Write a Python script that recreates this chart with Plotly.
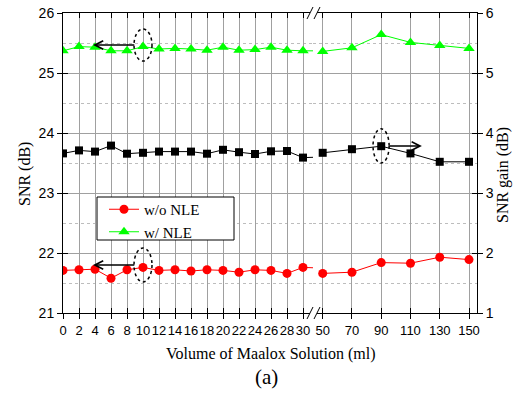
import plotly.graph_objects as go

# ---- data ----
vol_left = [0, 2, 4, 6, 8, 10, 12, 14, 16, 18, 20, 22, 24, 26, 28, 30]
vol_right = [50, 70, 90, 110, 130, 150]

snr_wo_left = [21.71, 21.72, 21.73, 21.58, 21.72, 21.76, 21.71, 21.72, 21.70, 21.72,
               21.71, 21.68, 21.72, 21.71, 21.66, 21.76]
snr_wo_right = [21.66, 21.68, 21.84, 21.83, 21.93, 21.89]

snr_w_left = [25.37, 25.44, 25.43, 25.37, 25.37, 25.44, 25.40, 25.41, 25.40, 25.38,
              25.43, 25.38, 25.39, 25.43, 25.38, 25.37]
snr_w_right = [25.36, 25.42, 25.64, 25.51, 25.46, 25.41]

gain_left = [3.66, 3.71, 3.69, 3.79, 3.655, 3.67, 3.69, 3.69, 3.69, 3.655,
             3.72, 3.68, 3.65, 3.695, 3.70, 3.59]
gain_right = [3.67, 3.73, 3.78, 3.66, 3.52, 3.52]

left_ticks = vol_left
right_ticks = vol_right

# ---- geometry (plot area 63..477 x 13..313 px) ----
W, H = 513, 393
L, R, T, B = 63, 36, 13, 80
PW = W - L - R
PH = H - T - B
brk = (313 - L) / PW

def px(xp):
    return (xp - L) / PW

def py(yp):
    return (T + PH - yp) / PH

RED = "#FF0000"
GREEN = "#00FF00"
GRID = "#A0A0A0"
SANS = "Liberation Sans, Arial, sans-serif"
SERIF = "Liberation Serif, Times New Roman, serif"

fig = go.Figure()

# Red: w/o NLE
fig.add_trace(go.Scatter(x=vol_left + [vol_right[0]], y=snr_wo_left + [snr_wo_right[0]],
                         xaxis="x", yaxis="y", mode="lines+markers", name="w/o NLE",
                         line=dict(color=RED, width=1),
                         marker=dict(symbol="circle", size=9, color=RED)))
fig.add_trace(go.Scatter(x=vol_right, y=snr_wo_right, xaxis="x2", yaxis="y",
                         mode="lines+markers", showlegend=False,
                         line=dict(color=RED, width=1),
                         marker=dict(symbol="circle", size=9, color=RED)))
# Green: w/ NLE
fig.add_trace(go.Scatter(x=vol_left + [vol_right[0]], y=snr_w_left + [snr_w_right[0]],
                         xaxis="x", yaxis="y", mode="lines+markers", name="w/ NLE",
                         line=dict(color=GREEN, width=1),
                         marker=dict(symbol="triangle-up", size=10, color=GREEN)))
fig.add_trace(go.Scatter(x=vol_right, y=snr_w_right, xaxis="x2", yaxis="y",
                         mode="lines+markers", showlegend=False,
                         line=dict(color=GREEN, width=1),
                         marker=dict(symbol="triangle-up", size=10, color=GREEN)))
# Black: SNR gain (right axis)
fig.add_trace(go.Scatter(x=vol_left + [vol_right[0]], y=gain_left + [gain_right[0]],
                         xaxis="x", yaxis="y2", mode="lines+markers", showlegend=False,
                         line=dict(color="black", width=1),
                         marker=dict(symbol="square", size=8, color="black")))
fig.add_trace(go.Scatter(x=vol_right, y=gain_right, xaxis="x2", yaxis="y2",
                         mode="lines+markers", showlegend=False,
                         line=dict(color="black", width=1),
                         marker=dict(symbol="square", size=8, color="black")))

xr1 = [0, 31.25]
xr2 = [50 - 9.7 / 1.463, 150 + 8 / 1.463]
tickfont = dict(family=SANS, size=13, color="black")

base_x = dict(showline=True, linecolor="black", linewidth=1, ticks="outside", ticklen=5,
              tickcolor="black", showgrid=True, gridcolor=GRID, gridwidth=1, zeroline=False,
              tickfont=tickfont, anchor="y", tickangle=0)
ov = dict(ticklen=5, tickcolor="black", showticklabels=False, showgrid=False,
          zeroline=False, ticks="inside")
fig.update_layout(
    xaxis=dict(base_x, domain=[0, brk], range=xr1, tickvals=left_ticks),
    xaxis2=dict(base_x, domain=[brk, 1], range=xr2, tickvals=right_ticks),
    xaxis3=dict(ov, overlaying="x", anchor="y", side="bottom", range=xr1,
                tickvals=left_ticks, showline=False),
    xaxis4=dict(ov, overlaying="x2", anchor="y", side="bottom", range=xr2,
                tickvals=right_ticks, showline=False),
    xaxis5=dict(ov, overlaying="x", anchor="y", side="top", range=xr1,
                tickvals=left_ticks, showline=True, linecolor="black"),
    xaxis6=dict(ov, overlaying="x2", anchor="y", side="top", range=xr2,
                tickvals=right_ticks, showline=True, linecolor="black"),
    yaxis=dict(range=[21, 26], dtick=1, tick0=21, showline=True, linecolor="black",
               ticks="outside", ticklen=5, tickcolor="black", showgrid=True, gridcolor=GRID,
               zeroline=False, tickfont=dict(family=SANS, size=14, color="black"),
               anchor="x", side="left",
               minor=dict(dtick=0.5, tick0=21, showgrid=True, gridcolor="#BDBDBD",
                          griddash="dot", ticks="")),
    yaxis2=dict(range=[1, 6], dtick=1, tick0=1, overlaying="y", anchor="x2", side="right",
                showline=True, linecolor="black", ticks="outside", ticklen=5,
                tickcolor="black", showgrid=False, zeroline=False,
                tickfont=dict(family=SANS, size=14, color="black")),
    yaxis3=dict(ov, range=[21, 26], dtick=1, tick0=21, overlaying="y", anchor="x",
                side="left", showline=False),
    yaxis4=dict(ov, range=[1, 6], dtick=1, tick0=1, overlaying="y", anchor="x2",
                side="right", showline=False),
)

# dummy invisible traces so overlay axes render
for xa, ya in [("x3", "y3"), ("x4", "y4"), ("x5", "y3"), ("x6", "y4")]:
    fig.add_trace(go.Scatter(x=[None], y=[None], xaxis=xa, yaxis=ya, showlegend=False,
                             hoverinfo="skip", mode="markers"))

# arrows
ann = [
    dict(x=3.75, y=25.467, ax=9.1, ay=25.467, xref="x", yref="y", axref="x", ayref="y"),
    dict(x=3.75, y=21.8, ax=9.1, ay=21.8, xref="x", yref="y", axref="x", ayref="y"),
    dict(x=117.8, y=3.783, ax=94.6, ay=3.783, xref="x2", yref="y2", axref="x2", ayref="y2"),
]
annotations = []
for a in ann:
    d = dict(showarrow=True, arrowhead=5, arrowsize=1.1, arrowwidth=1.5,
             arrowcolor="black", text="")
    d.update(a)
    annotations.append(d)

annotations += [
    dict(text="Volume of Maalox Solution (ml)", xref="paper", yref="paper",
         x=px(270), y=py(354), xanchor="center", yanchor="middle", showarrow=False,
         font=dict(family=SERIF, size=16, color="black")),
    dict(text="(a)", xref="paper", yref="paper", x=px(266), y=py(377),
         xanchor="center", yanchor="middle", showarrow=False,
         font=dict(family=SERIF, size=21, color="black")),
    dict(text="SNR (dB)", xref="paper", yref="paper", x=px(25), y=py(174),
         xanchor="center", yanchor="middle", showarrow=False, textangle=-90,
         font=dict(family=SERIF, size=16, color="black")),
    dict(text="SNR gain (dB)", xref="paper", yref="paper", x=px(503), y=py(175),
         xanchor="center", yanchor="middle", showarrow=False, textangle=-90,
         font=dict(family=SERIF, size=16, color="black")),
]

shapes = [
    # legend box
    dict(type="rect", xref="paper", yref="paper", x0=px(97), x1=px(234), y0=py(240),
         y1=py(197), line=dict(color="black", width=1), fillcolor="white", layer="above"),
    # dotted ellipses
    dict(type="circle", xref="x", yref="y", x0=8.875, x1=11.125, y0=25.2, y1=25.733,
         line=dict(color="black", width=1.5, dash="dot")),
    dict(type="circle", xref="x", yref="y", x0=8.875, x1=11.125, y0=21.517, y1=22.083,
         line=dict(color="black", width=1.5, dash="dot")),
    dict(type="circle", xref="x2", yref="y2", x0=84.4, x1=95.4, y0=3.5, y1=4.07,
         line=dict(color="black", width=1.5, dash="dot")),
]
# axis break marks
for yp in (313, 13):
    shapes.append(dict(type="rect", xref="paper", yref="paper", x0=px(310), x1=px(317),
                       y0=py(yp + 1.5), y1=py(yp - 1.5), line=dict(width=0),
                       fillcolor="white", layer="above"))
    for x0 in (307, 314):
        shapes.append(dict(type="line", xref="paper", yref="paper",
                           x0=px(x0), x1=px(x0 + 6), y0=py(yp + 6), y1=py(yp - 6),
                           line=dict(color="black", width=1), layer="above"))

fig.update_layout(
    width=W, height=H, margin=dict(l=L, r=R, t=T, b=B, autoexpand=False),
    paper_bgcolor="white", plot_bgcolor="white",
    annotations=annotations, shapes=shapes,
    showlegend=True,
    legend=dict(x=px(104), y=py(193), xanchor="left", yanchor="top",
                bgcolor="rgba(0,0,0,0)", borderwidth=0,
                font=dict(family=SERIF, size=15, color="black"),
                tracegroupgap=0, itemwidth=30),
)

fig.write_html("out.html", config={"displayModeBar": False},
               post_script="document.body.style.margin='0px';document.body.style.overflow='hidden';")
